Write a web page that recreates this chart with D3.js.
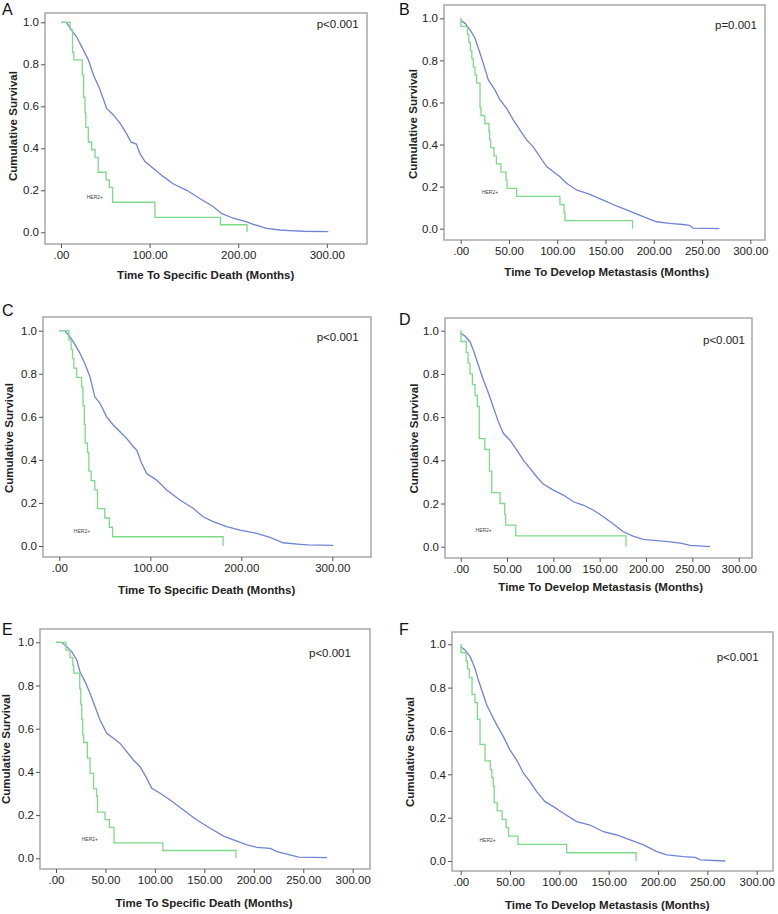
<!DOCTYPE html>
<html><head><meta charset="utf-8">
<script src="https://cdn.jsdelivr.net/npm/d3@7"></script>
<style>
html,body{margin:0;padding:0;background:#fff;}
svg{display:block;font-family:"Liberation Sans",Arial,sans-serif;}
</style></head>
<body><svg id="chart" width="778" height="914"></svg>
<script>
// ---------- DATA (months, cumulative survival) ----------
const yTickValues = [0, 0.2, 0.4, 0.6, 0.8, 1.0];
const xTicksWide = [0, 100, 200, 300];
const xTicksFine = [0, 50, 100, 150, 200, 250, 300];
const panelLetters = ["A", "B", "C", "D", "E", "F"];
const xTitles = ["Time To Specific Death (Months)", "Time To Develop Metastasis (Months)",
  "Time To Specific Death (Months)", "Time To Develop Metastasis (Months)",
  "Time To Specific Death (Months)", "Time To Develop Metastasis (Months)"];
const pValues = ["p<0.001", "p=0.001", "p<0.001", "p<0.001", "p<0.001", "p<0.001"];
const groupLabel = "HER2+";

const blueA = [[0,1],[6,1],[12,0.963],[17.7,0.93],[25,0.87],[31,0.82],[36.5,0.75],[44,0.68],[51.5,0.59],[59,0.56],[66.6,0.52],[74,0.47],[79,0.43],[85,0.42],[89,0.376],[95,0.336],[104,0.305],[115.5,0.265],[127,0.23],[142,0.2],[157,0.16],[172,0.122],[181,0.09],[194.5,0.067],[209.5,0.05],[217,0.038],[232,0.019],[247,0.011],[258,0.008],[273.5,0.005],[301.7,0.003]];
const greenA = [[0,1],[10.2,0.964],[13,0.857],[14.5,0.821],[24,0.75],[25.5,0.643],[27,0.571],[28,0.5],[30.8,0.43],[34.6,0.393],[38.4,0.357],[42,0.286],[50.8,0.25],[54.5,0.214],[58.3,0.143],[106,0.071],[180,0.036],[210,0]];

const blueB = [[0,0.99],[4.5,0.976],[9.7,0.945],[14.8,0.905],[20,0.834],[23.4,0.786],[28.6,0.707],[35.5,0.66],[40.7,0.612],[47.6,0.572],[54.5,0.517],[61.4,0.469],[68.3,0.422],[75,0.39],[82,0.342],[89,0.295],[96,0.271],[102.8,0.247],[109.7,0.216],[120,0.184],[133.8,0.163],[147.6,0.136],[161.4,0.108],[175,0.084],[189,0.057],[202.8,0.033],[216.6,0.025],[230,0.02],[237,0.016],[240.7,0.003],[268,0]];
const greenB = [[0,1],[0.3,0.962],[7,0.923],[8.5,0.885],[10,0.846],[11.5,0.808],[13,0.769],[14.8,0.731],[16.5,0.692],[20,0.577],[21,0.538],[25,0.5],[29.3,0.462],[30,0.423],[31,0.385],[34.5,0.346],[37,0.308],[41.7,0.269],[47,0.231],[48,0.192],[58,0.154],[102.8,0.115],[107,0.077],[108,0.038],[178,0]];

const blueC = [[0,1],[6,1],[10,0.98],[15.4,0.949],[22.7,0.895],[28,0.848],[33.7,0.786],[39,0.693],[44.7,0.663],[52,0.6],[59.3,0.562],[66.7,0.531],[74,0.5],[81.3,0.461],[85,0.446],[90.5,0.384],[96,0.337],[107,0.306],[118,0.26],[132.6,0.214],[147,0.175],[158,0.136],[169,0.113],[184,0.09],[198.5,0.074],[216.8,0.059],[231.5,0.04],[246,0.015],[264.5,0.008],[273.6,0.005],[301,0.003]];
const greenC = [[0,1],[10.5,0.957],[13,0.913],[14.5,0.87],[16,0.826],[19,0.783],[24.5,0.739],[26,0.652],[27.5,0.565],[28.5,0.478],[31,0.435],[32.5,0.348],[35,0.304],[39,0.261],[42,0.174],[50,0.13],[55,0.087],[58.5,0.043],[180,0]];

const blueD = [[0,0.988],[4.7,0.975],[10,0.949],[13.7,0.91],[19,0.841],[24.5,0.772],[30,0.71],[35,0.648],[40.6,0.579],[46,0.525],[53,0.494],[60.4,0.448],[67.6,0.401],[74.8,0.363],[82,0.324],[89,0.29],[100,0.262],[110.8,0.239],[121.6,0.208],[132,0.193],[143,0.17],[154,0.139],[164.7,0.105],[175.5,0.069],[186,0.049],[197,0.034],[211.5,0.028],[226,0.022],[238.5,0.015],[247.5,0.006],[269,0]];
const greenD = [[0,1],[0.3,0.95],[6,0.9],[8,0.85],[10,0.8],[12.6,0.75],[15.5,0.7],[18,0.65],[20,0.5],[26,0.45],[31,0.35],[33.5,0.25],[42.4,0.2],[47.5,0.15],[48.5,0.1],[59.4,0.05],[178.4,0]];

const blueE = [[0,1],[5.7,1],[10.8,0.98],[15.9,0.957],[21,0.918],[24.3,0.864],[29.4,0.818],[34.4,0.764],[39.5,0.702],[44.5,0.64],[51.3,0.579],[58,0.556],[64.8,0.532],[71.5,0.494],[78.3,0.455],[85,0.424],[91.8,0.37],[96.8,0.324],[105.3,0.301],[115.4,0.27],[128.9,0.224],[142.4,0.177],[155.9,0.139],[169.4,0.103],[182.9,0.08],[193,0.062],[203,0.051],[216.6,0.046],[223.3,0.031],[233.5,0.019],[245.3,0.005],[274,0.003]];
const greenE = [[0,1],[10,0.964],[14.2,0.929],[17,0.893],[18,0.857],[24,0.786],[25,0.714],[26,0.643],[27,0.571],[28,0.536],[31.7,0.464],[34.4,0.393],[38,0.321],[41,0.286],[42,0.214],[49.6,0.179],[54,0.143],[58.7,0.071],[108,0.036],[182,0]];

const blueF = [[0,0.989],[4.4,0.974],[9.5,0.943],[14.5,0.889],[17.9,0.835],[23,0.766],[26.4,0.72],[31.4,0.674],[36.5,0.628],[43.3,0.574],[50,0.512],[56.8,0.466],[63.6,0.405],[70.3,0.366],[77,0.32],[85.5,0.274],[94,0.251],[104,0.22],[117.6,0.182],[131,0.166],[144.7,0.135],[158.2,0.12],[171.7,0.097],[185.3,0.074],[198.8,0.043],[209,0.028],[225.8,0.02],[237.7,0.017],[242.7,0.005],[268,0]];
const greenF = [[0,1],[0.3,0.962],[5.5,0.923],[7,0.885],[8.8,0.846],[11.5,0.769],[14.5,0.731],[17,0.654],[19.6,0.538],[24.7,0.462],[30,0.423],[31.5,0.385],[33,0.346],[34,0.269],[37,0.231],[42,0.192],[46,0.154],[48.5,0.115],[58,0.077],[107.5,0.038],[177.8,0]];

const blueSeries = [blueA, blueB, blueC, blueD, blueE, blueF];
const greenSeries = [greenA, greenB, greenC, greenD, greenE, greenF];
const xTickSets = [xTicksWide, xTicksFine, xTicksWide, xTicksFine, xTicksFine, xTicksFine];
// HER2+ label anchor in data units [months, survival]
const labelAnchors = [[29,0.17],[22,0.175],[16,0.07],[16,0.078],[26,0.088],[19,0.095]];

// ---------- LAYOUT ----------
const layout = [
  {fL:45, fT:13, fR:367, fB:244, x0:61, x300:326.8, y1:22.3, y0:232.3, letter:[2,9], yT:[13,126], xT:[205.7,275], p:[316.7,24]},
  {fL:444, fT:5, fR:765, fB:240, x0:460.7, x300:750.3, y1:18.3, y0:228.7, letter:[399,9], yT:[412.7,124], xT:[606.7,272], p:[715,25]},
  {fL:43, fT:317, fR:371, fB:557, x0:59.3, x300:332.3, y1:330.7, y0:546, letter:[2,310], yT:[9.3,438], xT:[206.7,590], p:[316.7,336.7]},
  {fL:445, fT:318, fR:752, fB:558, x0:460.7, x300:738.7, y1:330.7, y0:546.7, letter:[399,319], yT:[414,438.5], xT:[600.7,587.3], p:[703,340]},
  {fL:40, fT:629, fR:370, fB:869, x0:56, x300:352.7, y1:642.3, y0:858.3, letter:[2,629], yT:[6,749], xT:[204,902.7], p:[309,653.3]},
  {fL:452, fT:632, fR:773, fB:871, x0:460.7, x300:756.7, y1:644.3, y0:861, letter:[399,629], yT:[410,752], xT:[607.3,905], p:[716.7,656.7]}
];

const svg = d3.select("#chart");
const blueColor = "#6f84d6", greenColor = "#7fd98a", frameColor = "#a8a8a8";
const fmtX = v => v === 0 ? ".00" : v.toFixed(2);
const fmtY = d3.format(".1f");

layout.forEach((L, i) => {
  const g = svg.append("g");
  const x = d3.scaleLinear().domain([0, 300]).range([L.x0, L.x300]);
  const y = d3.scaleLinear().domain([0, 1]).range([L.y0, L.y1]);

  // frame
  g.append("rect").attr("x", L.fL).attr("y", L.fT)
    .attr("width", L.fR - L.fL).attr("height", L.fB - L.fT)
    .attr("fill", "none").attr("stroke", frameColor).attr("stroke-width", 1.5);

  // y axis
  const yAxis = d3.axisLeft(y).tickValues(yTickValues).tickFormat(fmtY).tickSizeOuter(0).tickSize(4).tickPadding(2);
  const ya = g.append("g").attr("transform", `translate(${L.fL},0)`).call(yAxis);
  ya.select(".domain").remove();
  ya.selectAll("line").attr("stroke", "#555");
  ya.selectAll("text").attr("font-size", 11.5).attr("fill", "#222").attr("font-family", "Liberation Sans, Arial, sans-serif");

  // x axis
  const xAxis = d3.axisBottom(x).tickValues(xTickSets[i]).tickFormat(fmtX).tickSizeOuter(0).tickSize(4).tickPadding(3);
  const xa = g.append("g").attr("transform", `translate(0,${L.fB})`).call(xAxis);
  xa.select(".domain").remove();
  xa.selectAll("line").attr("stroke", "#555");
  xa.selectAll("text").attr("font-size", 11.5).attr("fill", "#222").attr("font-family", "Liberation Sans, Arial, sans-serif");

  // curves
  const lineBlue = d3.line().x(d => x(d[0])).y(d => y(d[1])).curve(d3.curveLinear);
  const lineGreen = d3.line().x(d => x(d[0])).y(d => y(d[1])).curve(d3.curveStepAfter);
  g.append("path").datum(blueSeries[i]).attr("d", lineBlue)
    .attr("fill", "none").attr("stroke", blueColor).attr("stroke-width", 1.3);
  g.append("path").datum(greenSeries[i]).attr("d", lineGreen)
    .attr("fill", "none").attr("stroke", greenColor).attr("stroke-width", 1.3);

  // HER2+ label
  g.append("text").attr("x", x(labelAnchors[i][0])).attr("y", y(labelAnchors[i][1]))
    .attr("font-size", 5).attr("fill", "#444").attr("dominant-baseline", "central").text(groupLabel);

  // p-value
  g.append("text").attr("x", L.p[0]).attr("y", L.p[1]).attr("dominant-baseline", "central")
    .attr("font-size", 11.5).attr("fill", "#222").text(pValues[i]);

  // axis titles
  g.append("text").attr("x", L.xT[0]).attr("y", L.xT[1]).attr("text-anchor", "middle")
    .attr("dominant-baseline", "central").attr("font-size", 11.5).attr("font-weight", "bold")
    .attr("fill", "#222").text(xTitles[i]);
  g.append("text").attr("transform", `translate(${L.yT[0]},${L.yT[1]}) rotate(-90)`)
    .attr("text-anchor", "middle").attr("dominant-baseline", "central")
    .attr("font-size", 11.5).attr("font-weight", "bold").attr("fill", "#222").text("Cumulative Survival");

  // panel letter
  g.append("text").attr("x", L.letter[0]).attr("y", L.letter[1]).attr("dominant-baseline", "central")
    .attr("font-size", 16).attr("fill", "#111").text(panelLetters[i]);
});
</script></body></html>
